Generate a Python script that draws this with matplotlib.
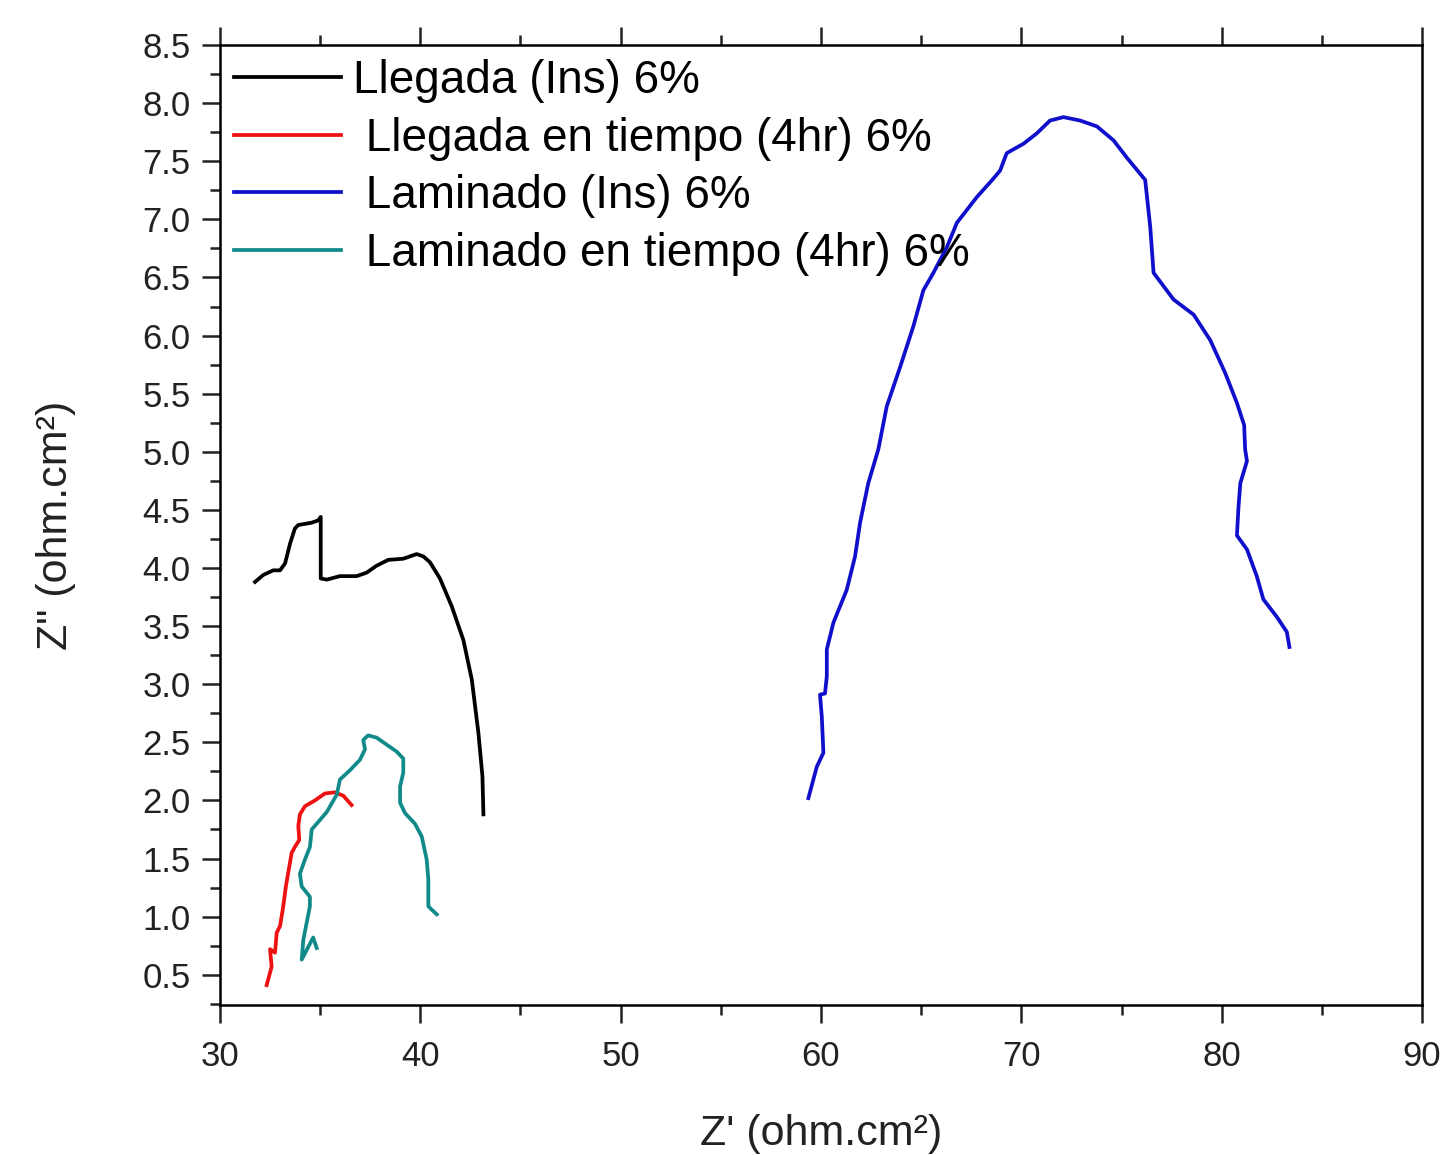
import matplotlib.pyplot as plt
from matplotlib.ticker import MultipleLocator, FormatStrFormatter

plt.rcParams['font.family'] = ['Liberation Sans', 'DejaVu Sans']

# Llegada (Ins) 6%
llegada_x = [31.75, 32.16, 32.66, 33.0, 33.25, 33.5, 33.74, 33.91, 34.58, 34.91, 35.03,
             35.03, 35.33, 35.99, 36.82, 37.32, 37.82, 38.40, 39.15, 39.82, 40.15, 40.48,
             40.98, 41.57, 42.15, 42.57, 42.90, 43.10, 43.15]
llegada_y = [3.88, 3.94, 3.98, 3.98, 4.04, 4.21, 4.34, 4.37, 4.39, 4.41, 4.44,
             3.91, 3.90, 3.93, 3.93, 3.96, 4.02, 4.07, 4.08, 4.12, 4.10, 4.05,
             3.91, 3.67, 3.38, 3.04, 2.58, 2.21, 1.88]

# Llegada en tiempo (4hr) 6%
llegada4_x = [32.33, 32.58, 32.50, 32.75, 32.83, 33.0, 33.16, 33.29, 33.46, 33.58, 33.74,
              33.96, 33.91, 33.99, 34.24, 34.74, 35.24, 35.74, 36.16, 36.57]
llegada4_y = [0.41, 0.57, 0.72, 0.69, 0.86, 0.92, 1.09, 1.26, 1.43, 1.55, 1.60,
              1.66, 1.78, 1.88, 1.95, 2.00, 2.06, 2.07, 2.04, 1.96]

# Laminado (Ins) 6%
laminado_x = [59.37, 59.79, 60.12, 60.04, 59.95, 60.20, 60.29, 60.29, 60.62, 61.28, 61.70,
              61.95, 62.36, 62.86, 63.28, 63.95, 64.61, 65.11, 65.61, 66.28, 66.78,
              67.77, 68.60, 68.94, 69.27, 70.10, 70.77, 71.43, 72.10, 72.94, 73.77,
              74.60, 75.27, 76.18, 76.43, 76.60, 77.60, 78.60, 79.43, 80.17, 80.76,
              81.12, 81.17, 81.26, 80.93, 80.84, 80.76, 81.26, 81.75, 82.08, 82.75,
              83.25, 83.38]
laminado_y = [2.02, 2.29, 2.41, 2.72, 2.91, 2.92, 3.07, 3.30, 3.53, 3.81, 4.10,
              4.39, 4.73, 5.02, 5.39, 5.73, 6.08, 6.39, 6.54, 6.76, 6.97,
              7.19, 7.35, 7.42, 7.57, 7.65, 7.74, 7.85, 7.88, 7.85, 7.80,
              7.68, 7.53, 7.34, 6.94, 6.54, 6.31, 6.18, 5.96, 5.68, 5.42,
              5.23, 5.02, 4.92, 4.73, 4.53, 4.28, 4.16, 3.93, 3.73, 3.58,
              3.45, 3.32]

# Laminado en tiempo (4hr) 6%
laminado4_x = [34.83, 34.65, 34.08, 34.16, 34.49, 34.49, 34.08, 33.99, 34.24, 34.49, 34.58,
               34.83, 35.33, 35.83, 35.99, 36.49, 36.99, 37.24, 37.15, 37.40, 37.82,
               38.32, 38.82, 39.15, 39.15, 38.99, 38.99, 39.24, 39.73, 40.07, 40.32,
               40.40, 40.40, 40.57, 40.82]
laminado4_y = [0.73, 0.82, 0.63, 0.80, 1.09, 1.17, 1.26, 1.37, 1.49, 1.60, 1.75,
               1.80, 1.90, 2.05, 2.18, 2.26, 2.35, 2.44, 2.52, 2.56, 2.54,
               2.48, 2.42, 2.36, 2.24, 2.12, 1.98, 1.89, 1.80, 1.69, 1.49,
               1.32, 1.09, 1.06, 1.02]

fig = plt.figure(figsize=(14.49, 11.55), dpi=100)
ax = fig.add_axes([0.1518, 0.1299, 0.8296, 0.8311])

lw = 2.7
ax.plot(llegada_x, llegada_y, color='black', lw=lw, label='Llegada (Ins) 6%')
ax.plot(llegada4_x, llegada4_y, color='#ee1111', lw=lw, label=' Llegada en tiempo (4hr) 6%')
ax.plot(laminado_x, laminado_y, color='#1010cc', lw=lw, label=' Laminado (Ins) 6%')
ax.plot(laminado4_x, laminado4_y, color='#128a8a', lw=lw, label=' Laminado en tiempo (4hr) 6%')

ax.set_xlim(30, 90)
ax.set_ylim(0.24, 8.5)

ax.xaxis.set_major_locator(MultipleLocator(10))
ax.xaxis.set_minor_locator(MultipleLocator(5))
ax.yaxis.set_major_locator(MultipleLocator(0.5))
ax.yaxis.set_minor_locator(MultipleLocator(0.25))
ax.yaxis.set_major_formatter(FormatStrFormatter('%.1f'))

ax.tick_params(which='both', direction='out', top=True, right=False, width=1.8,
               labelsize=25, colors='#222222')
ax.tick_params(which='major', length=13, pad=8)
ax.tick_params(axis='x', which='major', pad=12)
ax.tick_params(which='minor', length=7)
for s in ax.spines.values():
    s.set_linewidth(1.8)

ax.set_xlabel("Z' (ohm.cm²)", fontsize=31, labelpad=30, color='#222222')
ax.set_ylabel('Z" (ohm.cm²)', fontsize=31, labelpad=48, color='#222222')

ax.legend(loc='upper left', frameon=False, fontsize=33, handlelength=2.35,
          handletextpad=0.25, labelspacing=0.3, borderaxespad=0.1,
          borderpad=0.2)

fig.savefig('out.png', dpi=100)
